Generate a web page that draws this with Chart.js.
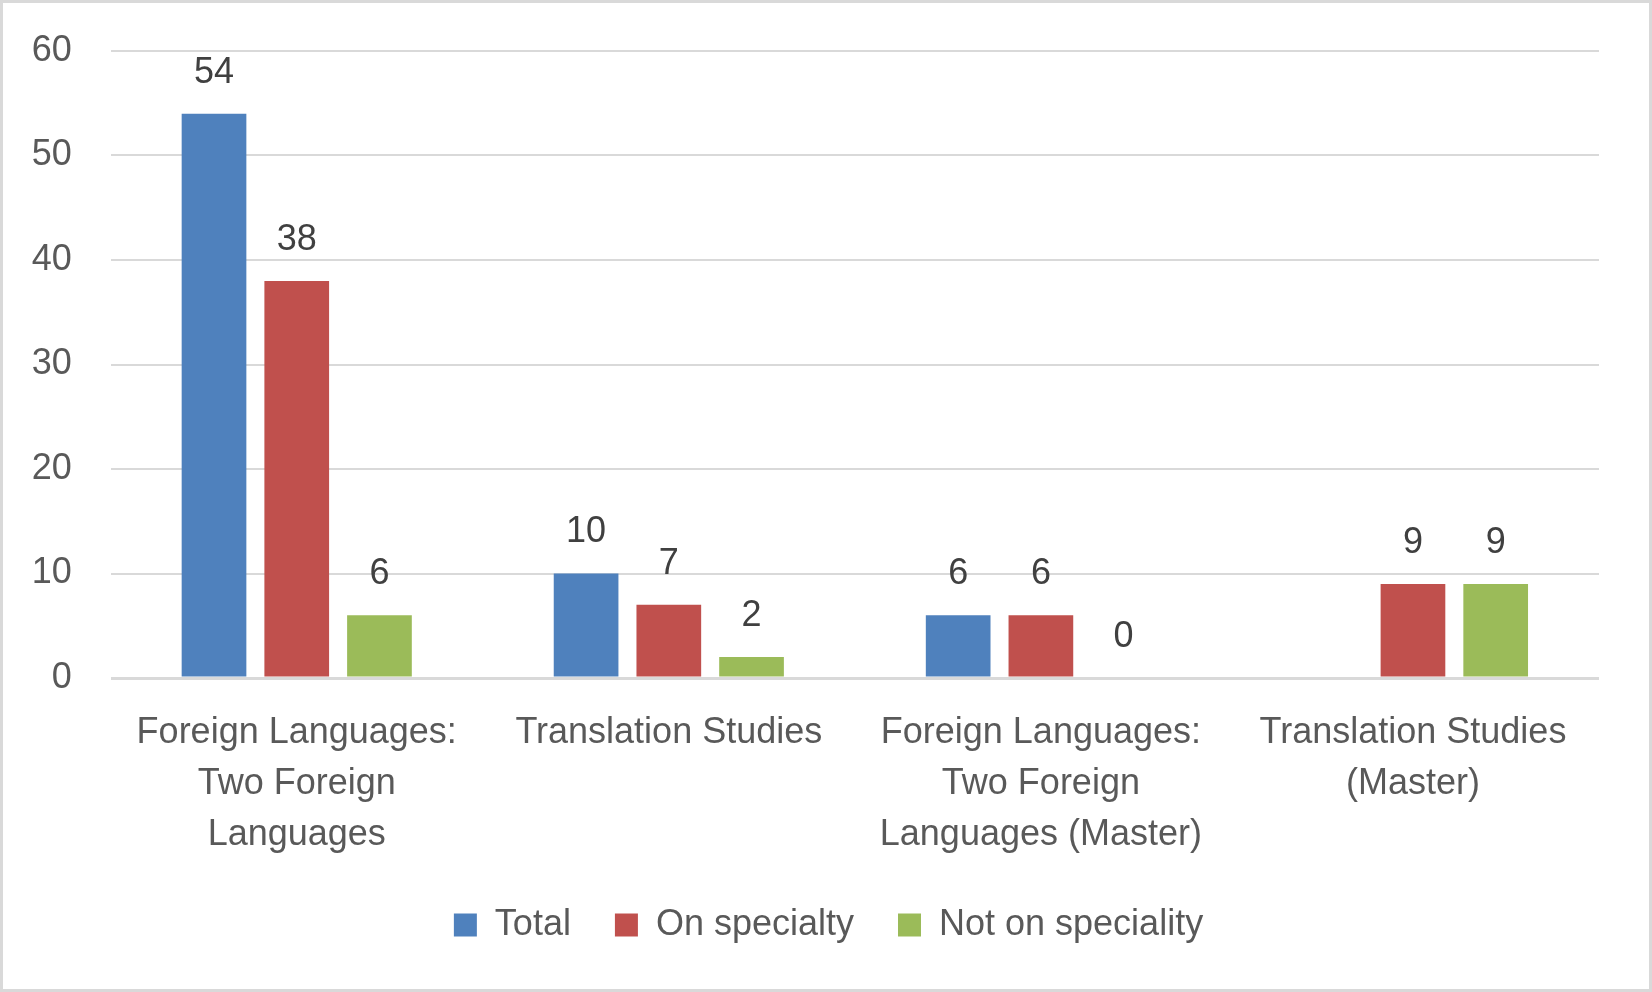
<!DOCTYPE html>
<html>
<head>
<meta charset="utf-8">
<script src="https://cdn.jsdelivr.net/npm/chart.js@4.4.1/dist/chart.umd.min.js"></script>
<style>
  html, body { margin: 0; padding: 0; background: #fff; }
  canvas { display: block; }
</style>
</head>
<body>
<canvas id="chart" width="1652" height="992"></canvas>
<script>
// categories (multi-line labels as in the original)
const categories = [
    ["Foreign Languages:", "Two Foreign", "Languages"],
    ["Translation Studies"],
    ["Foreign Languages:", "Two Foreign", "Languages (Master)"],
    ["Translation Studies", "(Master)"],
];
const totalValues = [54, 10, 6, null];
const onSpecialtyValues = [38, 7, 6, 9];
const notOnSpecialityValues = [6, 2, 0, 9];
const seriesNames = ["Total", "On specialty", "Not on speciality"];
const yTicks = [0, 10, 20, 30, 40, 50, 60];

Chart.defaults.font.family = "'Liberation Sans', Arial, sans-serif";
Chart.defaults.font.size = 36;
Chart.defaults.color = "#595959";

// white background + light grey frame round the whole picture
const framePlugin = {
    id: "frame",
    beforeDraw(chart) {
        const ctx = chart.ctx;
        ctx.save();
        ctx.fillStyle = "#ffffff";
        ctx.fillRect(0, 0, chart.width, chart.height);
        ctx.restore();
    },
    afterDraw(chart) {
        const ctx = chart.ctx;
        ctx.save();
        ctx.strokeStyle = "#d9d9d9";
        ctx.lineWidth = 3;
        ctx.strokeRect(1.5, 1.5, chart.width - 3, chart.height - 3);
        ctx.restore();
    }
};

// legend in the original sits a bit right of the canvas centre
const legendShift = {
    id: "legendShift",
    afterLayout(chart) {
        chart.legend.left += 58;
    }
};

// value labels above each bar
const valueLabels = {
    id: "valueLabels",
    afterDatasetsDraw(chart) {
        const ctx = chart.ctx;
        ctx.save();
        ctx.font = "36px 'Liberation Sans', Arial, sans-serif";
        ctx.fillStyle = "#404040";
        ctx.textAlign = "center";
        ctx.textBaseline = "middle";
        chart.data.datasets.forEach((ds, i) => {
            const meta = chart.getDatasetMeta(i);
            meta.data.forEach((bar, j) => {
                const v = ds.data[j];
                if (v === null || v === undefined) return;
                ctx.fillText(String(v), bar.x, bar.y - 41);
            });
        });
        ctx.restore();
    }
};

new Chart(document.getElementById("chart"), {
    type: "bar",
    data: {
        labels: categories,
        datasets: [
            { label: seriesNames[0], data: totalValues, backgroundColor: "#4f81bd" },
            { label: seriesNames[1], data: onSpecialtyValues, backgroundColor: "#c0504d" },
            { label: seriesNames[2], data: notOnSpecialityValues, backgroundColor: "#9bbb59" },
        ].map(d => Object.assign(d, { borderWidth: 0, categoryPercentage: 0.667, barPercentage: 0.782 })),
    },
    options: {
        responsive: false,
        animation: false,
        layout: { padding: { top: 51, left: 0, right: 53, bottom: 39 } },
        scales: {
            x: {
                grid: { display: false, drawTicks: false },
                border: { display: false },
                ticks: {
                    padding: 30,
                    color: "#595959",
                    maxRotation: 0,
                    autoSkip: false,
                    font: { size: 36, lineHeight: 51 / 36 },
                },
                afterFit: (s) => { s.height = 185; },
            },
            y: {
                min: 0,
                max: 60,
                afterBuildTicks: (s) => { s.ticks = yTicks.map(v => ({ value: v })); },
                grid: {
                    color: "#d9d9d9",
                    lineWidth: (c) => (c.tick && c.tick.value === 0 ? 3 : 2),
                    drawTicks: false,
                    tickLength: 0,
                },
                border: { display: false },
                ticks: { padding: 39, color: "#595959", font: { size: 36 } },
                afterFit: (s) => {
                    s.width = 110.7;
                    // tick padding is horizontal only here
                    s.paddingTop = 22;
                    s.paddingBottom = 22;
                },
            },
        },
        plugins: {
            legend: {
                position: "bottom",
                labels: {
                    boxWidth: 23,
                    boxHeight: 23,
                    padding: 44,
                    color: "#595959",
                    font: { size: 36 },
                },
            },
            tooltip: { enabled: false },
        },
    },
    plugins: [framePlugin, legendShift, valueLabels],
});
</script>
</body>
</html>
